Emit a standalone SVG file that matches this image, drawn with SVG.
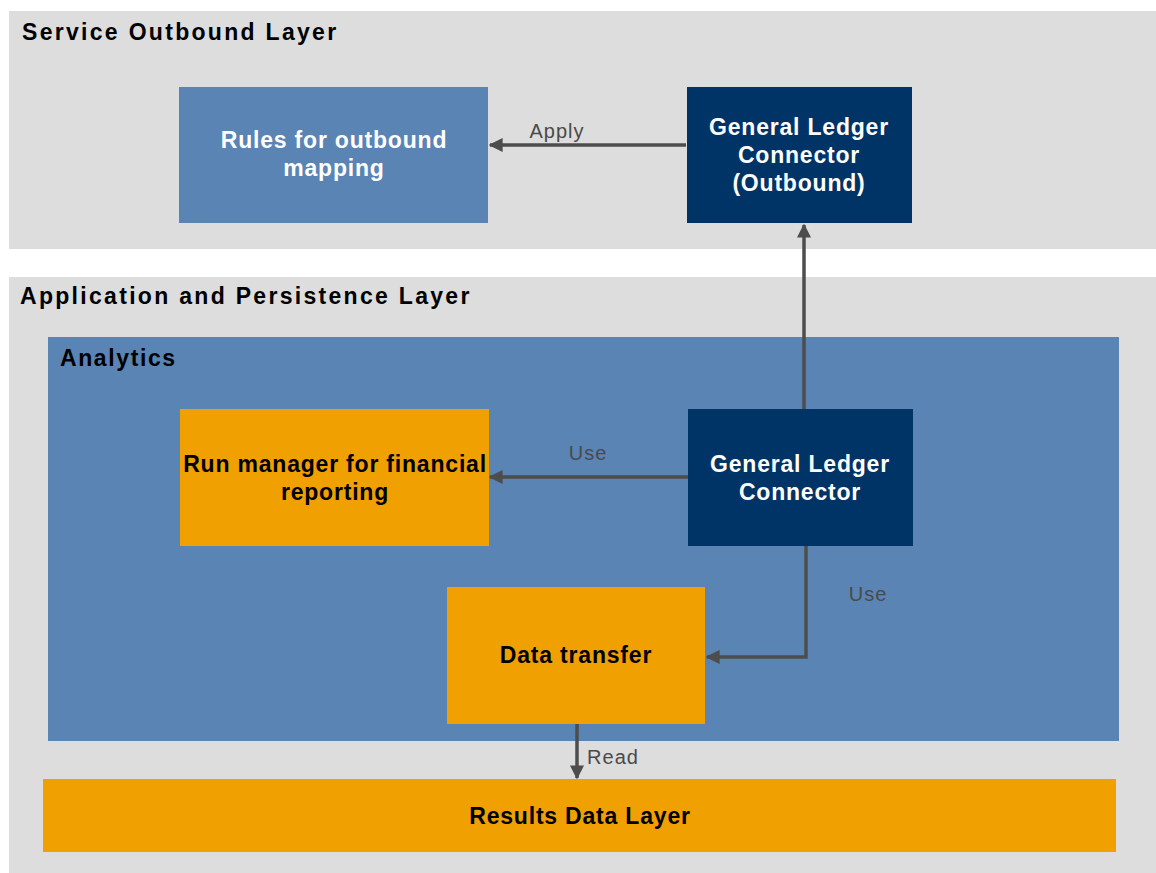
<svg xmlns="http://www.w3.org/2000/svg" width="1156" height="873" viewBox="0 0 1156 873">
<defs>
<style>
.layer{fill:#dddddd}
.title{font-family:"Liberation Sans",Arial,sans-serif;font-weight:bold;font-size:23px;letter-spacing:2.3px;fill:#000}
.mid{fill:#5a84b3}
.dark{fill:#003366}
.org{fill:#f0a000}
.wt{font-family:"Liberation Sans",Arial,sans-serif;font-weight:bold;font-size:23px;letter-spacing:0.8px;fill:#fff;text-anchor:middle}
.bt{font-family:"Liberation Sans",Arial,sans-serif;font-weight:bold;font-size:23px;letter-spacing:0.8px;fill:#000;text-anchor:middle}
.lbl{font-family:"Liberation Sans",Arial,sans-serif;font-size:20px;letter-spacing:1px;fill:#4a4a4a;text-anchor:middle}
.ln{fill:none;stroke:#4d4d4d;stroke-width:3.5}
</style>
<marker id="ah" viewBox="0 0 10 10" refX="9" refY="5" markerWidth="4" markerHeight="4" orient="auto" markerUnits="strokeWidth">
<path d="M0,0 L10,5 L0,10 Z" fill="#4d4d4d"/>
</marker>
</defs>
<rect width="1156" height="873" fill="#fff"/>
<g id="service-outbound-layer">
<rect class="layer" x="9" y="11" width="1147" height="238"/>
<text class="title" x="22" y="40">Service Outbound Layer</text>
</g>
<g id="application-persistence-layer">
<rect class="layer" x="9" y="277" width="1147" height="596"/>
<text class="title" x="20" y="304">Application and Persistence Layer</text>
</g>
<g id="analytics">
<rect class="mid" x="48" y="337" width="1071" height="404"/>
<text class="title" x="60" y="366" style="letter-spacing:1.6px">Analytics</text>
</g>
<g id="rules">
<rect class="mid" x="179" y="87" width="309" height="136"/>
<text class="wt" x="334" y="148">Rules for outbound</text>
<text class="wt" x="334" y="176">mapping</text>
</g>
<g id="gl-outbound">
<rect class="dark" x="687" y="87" width="225" height="136"/>
<text class="wt" x="799" y="135">General Ledger</text>
<text class="wt" x="799" y="163">Connector</text>
<text class="wt" x="799" y="191">(Outbound)</text>
</g>
<g id="run-manager">
<rect class="org" x="180" y="409" width="309" height="137"/>
<text class="bt" x="335" y="472">Run manager for financial</text>
<text class="bt" x="335" y="500">reporting</text>
</g>
<g id="gl-connector">
<rect class="dark" x="688" y="409" width="225" height="137"/>
<text class="wt" x="800" y="472">General Ledger</text>
<text class="wt" x="800" y="500">Connector</text>
</g>
<g id="data-transfer">
<rect class="org" x="447" y="587" width="258" height="137"/>
<text class="bt" x="576" y="663">Data transfer</text>
</g>
<g id="results-data-layer">
<rect class="org" x="43" y="779" width="1073" height="73"/>
<text class="bt" x="580" y="824">Results Data Layer</text>
</g>
<g id="connectors">
<line class="ln" x1="686" y1="145" x2="490" y2="145" marker-end="url(#ah)"/>
<text class="lbl" x="557" y="138">Apply</text>
<line class="ln" x1="804" y1="409" x2="804" y2="225" marker-end="url(#ah)"/>
<line class="ln" x1="688" y1="477" x2="490" y2="477" marker-end="url(#ah)"/>
<text class="lbl" x="588" y="460">Use</text>
<polyline class="ln" points="806,546 806,657 707,657" marker-end="url(#ah)"/>
<text class="lbl" x="868" y="601">Use</text>
<line class="ln" x1="577" y1="724" x2="577" y2="778" marker-end="url(#ah)"/>
<text class="lbl" x="613" y="764">Read</text>
</g>
</svg>
